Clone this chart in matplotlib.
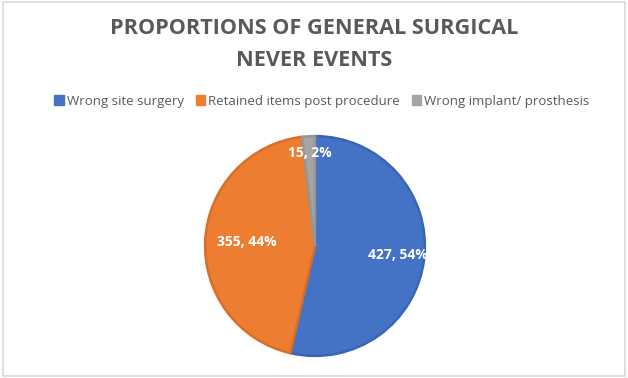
import numpy as np
import matplotlib.pyplot as plt
from matplotlib.patches import Rectangle

categories = ['Wrong site surgery', 'Retained items post procedure', 'Wrong implant/ prosthesis']
values = [427, 355, 15]
labels = ['427, 54%', '355, 44%', '15, 2%']
colors = ['#4472C4', '#ED7D31', '#A5A5A5']
edges = ['#3B65B3', '#D86E27', '#969696']
label_dist = [0.76, 0.62, 0.85]

plt.rcParams['font.family'] = ['Open Sans', 'DejaVu Sans']

fig = plt.figure(figsize=(6.28, 3.78), dpi=100)
fig.patches.append(Rectangle((0.004, 0.005), 0.992, 0.99, transform=fig.transFigure,
                             fill=False, edgecolor='#D9D9D9', linewidth=1.2))

# pie area in pixels: center (315, 246), radius ~111
r = 111
ax = fig.add_axes([(315 - r) / 628, (378 - 246 - r) / 378, 2 * r / 628, 2 * r / 378])
wedges, _ = ax.pie(values, colors=colors, startangle=90, counterclock=False,
                   wedgeprops=dict(linewidth=1.8, edgecolor='none'))
for w, ec in zip(wedges, edges):
    w.set_edgecolor(ec)
ax.set_xlim(-1.01, 1.01)
ax.set_ylim(-1.01, 1.01)
ax.set_aspect('equal')

for w, lab, d in zip(wedges, labels, label_dist):
    ang = np.deg2rad((w.theta1 + w.theta2) / 2)
    ax.text(d * np.cos(ang), d * np.sin(ang), lab, ha='center', va='center',
            color='white', fontsize=10, fontweight='bold', clip_on=False)

fig.text(0.5, 1 - 28 / 378, 'PROPORTIONS OF GENERAL SURGICAL', ha='center', va='center',
         fontsize=15.6, fontweight='bold', color='#595959')
fig.text(0.5, 1 - 60 / 378, 'NEVER EVENTS', ha='center', va='center',
         fontsize=15.6, fontweight='bold', color='#595959')

handles = [Rectangle((0, 0), 1, 1, color=c) for c in colors]
fig.legend(handles, categories, loc='center', bbox_to_anchor=(322 / 628, 1 - 101 / 378),
           ncol=3, frameon=False, fontsize=9.5, handlelength=0.7, handleheight=0.7,
           handletextpad=0.25, columnspacing=0.9, labelcolor='#595959')

plt.savefig('out.png', dpi=100)
plt.close()
